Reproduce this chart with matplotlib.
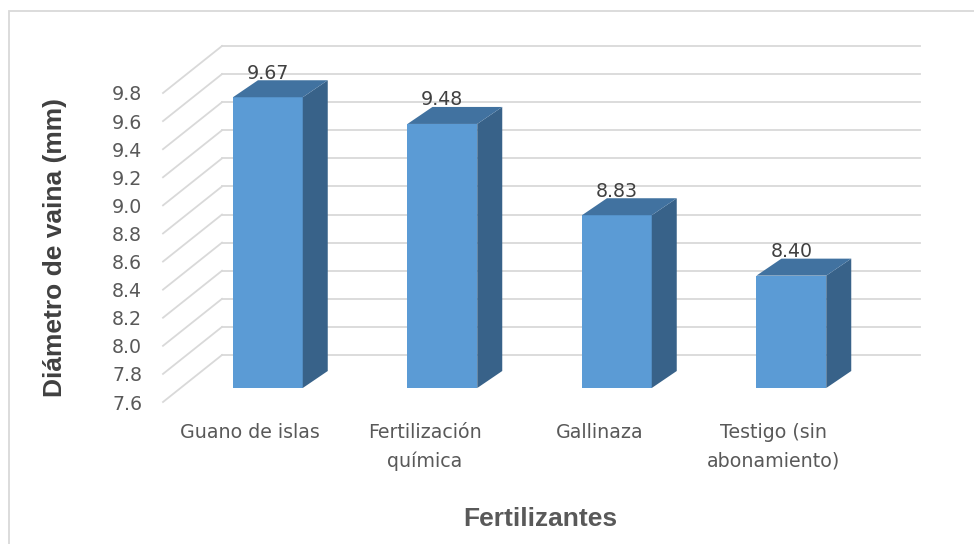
import matplotlib.pyplot as plt
from matplotlib.patches import Polygon, Rectangle

# data
categories = ["Guano de islas", "Fertilización\nquímica", "Gallinaza", "Testigo (sin\nabonamiento)"]
values = [9.67, 9.48, 8.83, 8.40]
y_ticks = [7.6, 7.8, 8.0, 8.2, 8.4, 8.6, 8.8, 9.0, 9.2, 9.4, 9.6, 9.8]
y_min, y_max = 7.6, 9.8

# fake 3d geometry, in data units (pixels / pixels-per-unit)
px_x = 174.5           # pixels per category
px_y = 309 / 2.2       # pixels per value unit
wall_dx, wall_dy = 59 / px_x, 47 / px_y       # back wall offset
front_dx, front_dy = 17.6 / px_x, 14 / px_y   # bar front face offset
bar_dx, bar_dy = 25 / px_x, 17 / px_y         # bar depth
bar_w = 0.4

c_front, c_top, c_side = "#5b9bd5", "#4172a0", "#386289"
grid_c = "#d9d9d9"

fig = plt.figure(figsize=(9.74, 5.44), dpi=100)
ax = fig.add_axes([163 / 974, 142 / 544, 698 / 974, 309 / 544])
ax.set_xlim(0, len(categories))
ax.set_ylim(y_min, y_max)
for s in ax.spines.values():
    s.set_visible(False)

# walls: side diagonals + back horizontals
for t in y_ticks:
    ax.plot([0, wall_dx], [t, t + wall_dy], color=grid_c, lw=1.3, clip_on=False, zorder=1)
    ax.plot([wall_dx, len(categories) + wall_dx], [t + wall_dy, t + wall_dy],
            color=grid_c, lw=1.3, clip_on=False, zorder=1)

# bars
for i, v in enumerate(values):
    x0 = i + 0.5 - bar_w / 2 + front_dx
    x1 = x0 + bar_w
    b0 = y_min + front_dy
    top = v + front_dy
    front = Rectangle((x0, b0), bar_w, top - b0, facecolor=c_front, edgecolor="none",
                      clip_on=False, zorder=3)
    side = Polygon([(x1, b0), (x1, top), (x1 + bar_dx, top + bar_dy), (x1 + bar_dx, b0 + bar_dy)],
                   closed=True, facecolor=c_side, edgecolor="none", clip_on=False, zorder=3)
    lid = Polygon([(x0, top), (x1, top), (x1 + bar_dx, top + bar_dy), (x0 + bar_dx, top + bar_dy)],
                  closed=True, facecolor=c_top, edgecolor="none", clip_on=False, zorder=3)
    ax.add_patch(front)
    ax.add_patch(side)
    ax.add_patch(lid)
    ax.text(i + 0.5 + front_dx, top + bar_dy + 0.012, f"{v:.2f}", ha="center", va="baseline",
            fontsize=13.7, color="#404040", zorder=4)

ax.set_yticks(y_ticks)
ax.set_yticklabels([f"{t:.1f}" for t in y_ticks], fontsize=13.7, color="#595959")
ax.set_xticks([i + 0.5 for i in range(len(categories))])
ax.set_xticklabels(categories, fontsize=13.7, color="#595959", linespacing=1.65)
ax.tick_params(axis="y", length=0, pad=15)
ax.tick_params(axis="x", length=0, pad=15)

ax.set_ylabel("Diámetro de vaina (mm)", fontsize=19, fontweight="bold", color="#404040",
              family="Liberation Sans")
ax.yaxis.set_label_coords((67 - 163) / 698, 0.5)
ax.set_xlabel("Fertilizantes", fontsize=19, fontweight="bold", color="#595959",
              family="Liberation Sans")
ax.xaxis.set_label_coords((540 - 163) / 698, (402 - 507) / 309)

# chart frame (cut off at right and bottom like the source)
fig.add_artist(Rectangle((8.5 / 974, -0.05), 1.1, 1 - 10.5 / 544 + 0.05, transform=fig.transFigure,
                         facecolor="none", edgecolor=grid_c, lw=1.3))

fig.savefig("out.png", dpi=100)
